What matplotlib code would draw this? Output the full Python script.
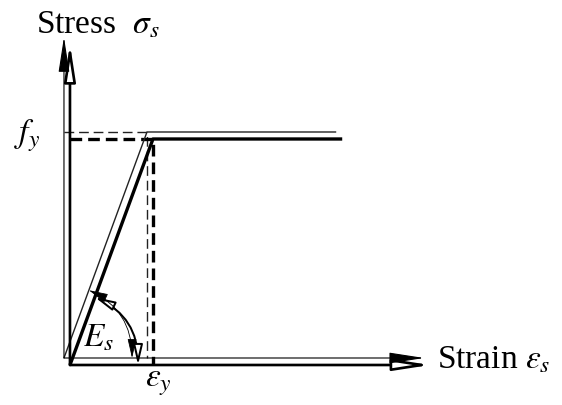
import matplotlib
matplotlib.use('Agg')
import matplotlib.pyplot as plt
from matplotlib.patches import FancyArrowPatch
from matplotlib.transforms import ScaledTranslation

plt.rcParams['font.family'] = ['Liberation Serif', 'DejaVu Serif']
plt.rcParams['mathtext.fontset'] = 'stix'

# idealised elastic - perfectly plastic steel (normalised by eps_y and f_y)
strain = [0.0, 1.0, 3.28]
stress = [0.0, 1.0, 1.0]
eps_y = 1.0
f_y = 1.0
axis_x_end = 4.34
axis_y_end = 1.42
arc_slope_frac = 0.3      # where the E_s arc meets the elastic branch
arc_axis_pos = 0.82       # where it meets the strain axis

fig = plt.figure(figsize=(5.62, 4.05), dpi=100)
ax = fig.add_axes([0, 0, 1, 1])
ax.set_xlim(-0.843, 5.928)
ax.set_ylim(-0.177, 1.615)
ax.axis('off')

# the drawing is printed twice: a thin copy shifted up-left, and a bold copy
copies = [
    dict(dx=-0.06, dy=0.07, lw=1.0, color='#222222', dash=(7, 3.5),
         fill='black', z=5),
    dict(dx=0.0, dy=0.0, lw=2.4, color='black', dash=(3.5, 1.8),
         fill='white', z=4),
]

head = '-|>,head_length=1.1,head_width=0.17'

for c in copies:
    tr = ax.transData + ScaledTranslation(c['dx'], c['dy'], fig.dpi_scale_trans)

    ax.plot(strain, stress, color=c['color'], lw=c['lw'], transform=tr,
            solid_capstyle='butt', zorder=3)
    ax.plot([0, eps_y, eps_y], [f_y, f_y, 0], color=c['color'],
            lw=c['lw'], ls=(0, c['dash']), transform=tr, zorder=2)

    for end in [(axis_x_end, 0), (0, axis_y_end)]:
        arr = FancyArrowPatch((0, 0), end, arrowstyle=head, mutation_scale=20,
                              shrinkA=0, shrinkB=0, lw=c['lw'] * 0.8,
                              ec='black', fc=c['fill'], transform=tr,
                              zorder=c['z'])
        ax.add_patch(arr)

    arc = FancyArrowPatch((arc_slope_frac * eps_y, arc_slope_frac * f_y),
                          (arc_axis_pos * eps_y, 0),
                          arrowstyle='<|-|>,head_length=0.6,head_width=0.14',
                          mutation_scale=20, connectionstyle='arc3,rad=-0.32',
                          shrinkA=0, shrinkB=0, lw=c['lw'] * 0.6,
                          ec='black', fc=c['fill'], transform=tr,
                          zorder=c['z'])
    ax.add_patch(arc)

fs = 24
ax.annotate(r'Stress  $\sigma_s$', xy=(0, axis_y_end), xytext=(28, 11),
            textcoords='offset pixels', ha='center', va='baseline', fontsize=fs)
ax.annotate(r'$f_y$', xy=(0, f_y), xytext=(-30, -4),
            textcoords='offset pixels', ha='right', va='baseline', fontsize=fs)
ax.annotate(r'Strain $\varepsilon_s$', xy=(axis_x_end, 0), xytext=(7, -4),
            textcoords='offset pixels', ha='left', va='baseline', fontsize=fs)
ax.annotate(r'$E_s$', xy=(0, 0), xytext=(13, 18),
            textcoords='offset pixels', ha='left', va='baseline', fontsize=fs)
ax.annotate(r'$\varepsilon_y$', xy=(eps_y, 0), xytext=(-8, -22),
            textcoords='offset pixels', ha='left', va='baseline', fontsize=fs)

fig.savefig('out.png', dpi=100)
